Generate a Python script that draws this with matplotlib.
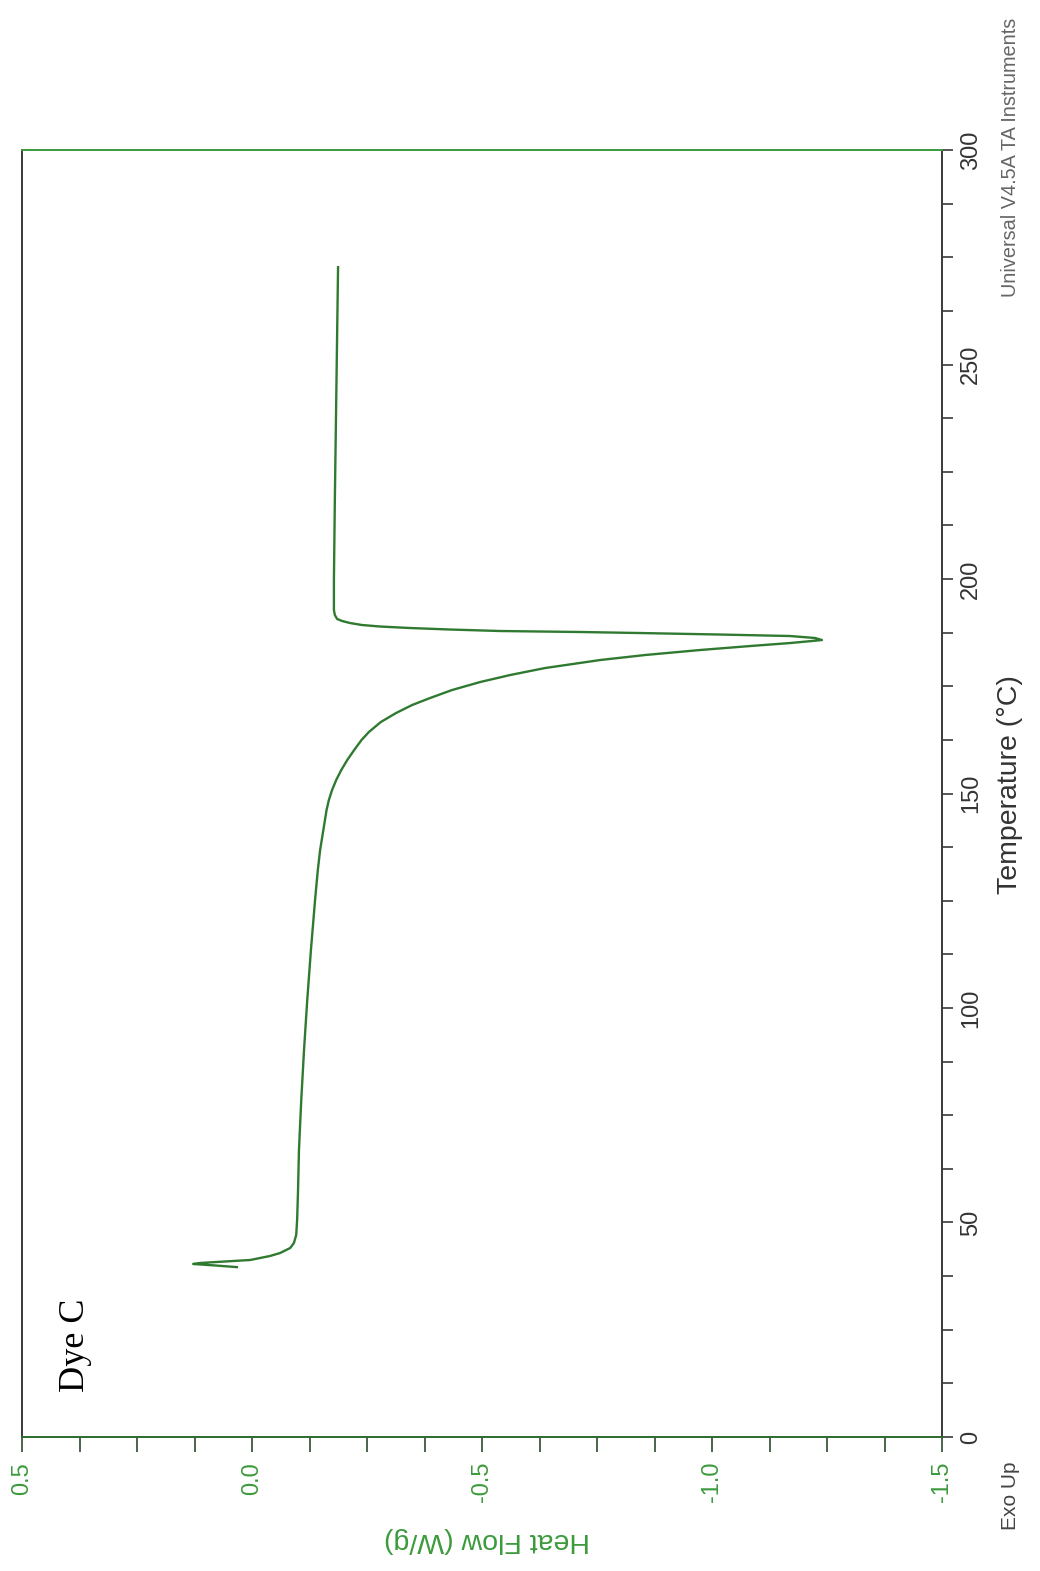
import numpy as np
import matplotlib
matplotlib.use('Agg')
import matplotlib.pyplot as plt
from matplotlib.ticker import MultipleLocator, FixedLocator

# DSC trace: temperature (°C) and heat flow (W/g)
temperature = [39.60, 39.98, 40.33, 40.56, 40.91, 41.26, 42.19, 42.89, 44.06,
               45.22, 47.09, 50.58, 57.58, 66.90, 78.60, 90.20, 101.86, 113.52,
               125.17, 132.17, 136.83, 141.49, 146.15, 148.48, 150.82, 153.15,
               155.48, 157.81, 160.14, 162.47, 164.34, 166.67, 168.76, 170.63,
               172.26, 174.13, 175.99, 177.62, 179.25, 181.12, 182.28, 183.45,
               184.38, 185.08, 185.55, 185.78, 186.25, 186.71, 187.06, 187.41,
               187.65, 187.88, 188.23, 188.58, 188.93, 189.28, 189.74, 190.21,
               190.68, 191.61, 192.77, 199.80, 218.40, 241.70, 272.70]
heat_flow = [0.033, 0.080, 0.128, 0.113, 0.059, 0.004, -0.039, -0.061, -0.083,
             -0.091, -0.096, -0.098, -0.100, -0.102, -0.107, -0.113, -0.120,
             -0.128, -0.137, -0.143, -0.148, -0.155, -0.162, -0.167, -0.174,
             -0.183, -0.194, -0.207, -0.222, -0.238, -0.254, -0.280, -0.313,
             -0.348, -0.387, -0.435, -0.496, -0.561, -0.637, -0.757, -0.854,
             -0.974, -1.083, -1.170, -1.217, -1.239, -1.224, -1.170, -1.017,
             -0.843, -0.713, -0.539, -0.430, -0.343, -0.278, -0.239, -0.213,
             -0.196, -0.185, -0.180, -0.178, -0.178, -0.180, -0.183, -0.187]

hf_ticks = [0.5, 0.0, -0.5, -1.0, -1.5]
hf_labels = ['0.5', '0.0', '-0.5', '-1.0', '-1.5']
t_ticks = [0, 50, 100, 150, 200, 250, 300]

green = '#3c9a3c'
line_green = '#2f7a30'
dark = '#3a3a3a'

plt.rcParams['font.family'] = ['Liberation Sans', 'DejaVu Sans']

fig = plt.figure(figsize=(10.4, 15.71), dpi=100)
ax = fig.add_axes([0.0212, 0.0853, 0.8846, 0.8192])

ax.plot(heat_flow, temperature, color=line_green, lw=1.7,
        solid_joinstyle='round')

ax.set_xlim(0.5, -1.5)
ax.set_ylim(0, 300)

# heat flow axis (bottom)
ax.xaxis.set_major_locator(FixedLocator(hf_ticks))
ax.set_xticklabels(hf_labels, rotation=90, color=green, fontsize=17)
ax.xaxis.set_minor_locator(MultipleLocator(0.125))
ax.tick_params(axis='x', which='both', direction='out', length=11, width=1.2,
               color='#2c4a2c', pad=7)

# temperature axis (right)
ax.yaxis.tick_right()
ax.yaxis.set_major_locator(FixedLocator(t_ticks))
ax.yaxis.set_minor_locator(MultipleLocator(12.5))
ax.set_yticklabels([str(t) for t in t_ticks], rotation=90, va='center',
                   color='#333333', fontsize=17)
ax.tick_params(axis='y', which='both', direction='out', length=8, width=1.2,
               color=dark, pad=5)

ax.spines['top'].set_color(green)
ax.spines['bottom'].set_color('#2c6a2c')
ax.spines['left'].set_color(dark)
ax.spines['right'].set_color(dark)
for s in ax.spines.values():
    s.set_linewidth(1.4)

ax.text(0.0576, 0.071, 'Dye C', transform=ax.transAxes, rotation=90,
        family=['Liberation Serif'], fontsize=26, ha='center', va='center')

fig.text(487 / 1040, 1 - 1540 / 1571, 'Heat Flow (W/g)', rotation=180,
         color=green, fontsize=20.5, ha='center', va='center')
fig.text(1010 / 1040, 1 - 785 / 1571, 'Temperature (°C)', rotation=90,
         color='#333333', fontsize=20.5, ha='center', va='center')
fig.text(1010 / 1040, 1 - 1496 / 1571, 'Exo Up', rotation=90,
         color='#444444', fontsize=15, ha='center', va='center')
fig.text(1010 / 1040, 1 - 157 / 1571, 'Universal V4.5A TA Instruments',
         rotation=90, color='#666666', fontsize=14.3, ha='center', va='center')

fig.savefig('out.png', dpi=100)
